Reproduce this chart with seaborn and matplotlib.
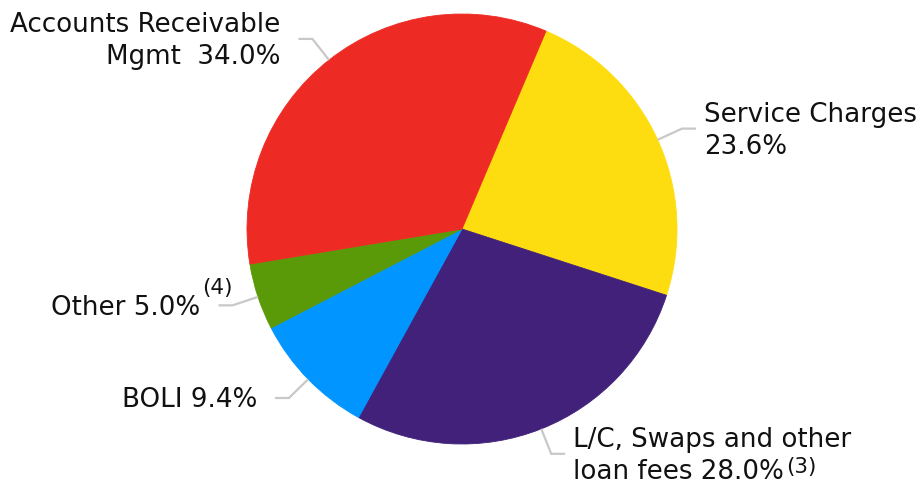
import numpy as np
import matplotlib
matplotlib.use("Agg")
import matplotlib.pyplot as plt
import seaborn as sns

# Fee income mix
categories = ["Service Charges", "L/C, Swaps and other loan fees", "BOLI", "Other",
              "Accounts Receivable Mgmt"]
shares = [23.6, 28.0, 9.4, 5.0, 34.0]
label_lines = [
    ["Service Charges", "23.6%"],
    ["L/C, Swaps and other", "loan fees 28.0%"],
    ["BOLI 9.4%"],
    ["Other 5.0%"],
    ["Accounts Receivable", "Mgmt  34.0%"],
]
footnotes = ["", "(3)", "", "(4)", ""]
footnote_raise = [0, 6, 0, 21, 0]   # px above the baseline
colors = ["#FEDD10", "#41217A", "#0095FF", "#5A9A08", "#EE2A24"]

sns.set_theme(style="white")
plt.rcParams["font.family"] = ["DejaVu Sans"]

W, H = 924, 482
fig = plt.figure(figsize=(W / 100, H / 100), dpi=100)
ax = fig.add_axes([0, 0, 1, 1])

cx, cy, r = 462, H - 229, 215
wedges, _ = ax.pie(shares, colors=colors, startangle=67, counterclock=False,
                   center=(cx, cy), radius=r, wedgeprops=dict(linewidth=0.6))
for w, c in zip(wedges, colors):
    w.set_edgecolor(c)
ax.set_xlim(0, W)
ax.set_ylim(0, H)
ax.set_aspect("equal")
ax.axis("off")

line_col = "#C8C8C8"
text_col = "#111111"
fs = 18.8
line_step = 32      # px between baselines
cap_half = 9.5      # half cap height, px

for w, lines, note, rise in zip(wedges, label_lines, footnotes, footnote_raise):
    ang = np.deg2rad((w.theta1 + w.theta2) / 2)
    ux, uy = np.cos(ang), np.sin(ang)
    p0 = (cx + r * ux, cy + r * uy)
    p1 = (cx + 1.125 * r * ux, cy + 1.125 * r * uy)
    side = 1 if ux >= 0 else -1
    p2 = (p1[0] + side * 14, p1[1])
    ax.plot([p0[0], p1[0], p2[0]], [p0[1], p1[1], p2[1]], color=line_col,
            lw=1.6, solid_capstyle="butt", solid_joinstyle="miter")

    tx = p2[0] + 8 if side > 0 else p2[0] - 18
    ha = "left" if side > 0 else "right"
    n = len(lines)
    last = None
    for i, ln in enumerate(lines):
        base = p2[1] - cap_half + (n - 1) * line_step / 2 - i * line_step
        last = ax.text(tx, base, ln, ha=ha, va="baseline", fontsize=fs,
                       color=text_col)
        last_base = base
    if note:
        ax.annotate(note, xy=(1, last_base), xycoords=(last, "data"),
                    xytext=(2, rise), textcoords="offset pixels",
                    ha="left", va="baseline", fontsize=15.5, color=text_col)

fig.savefig("out.png", dpi=100)
